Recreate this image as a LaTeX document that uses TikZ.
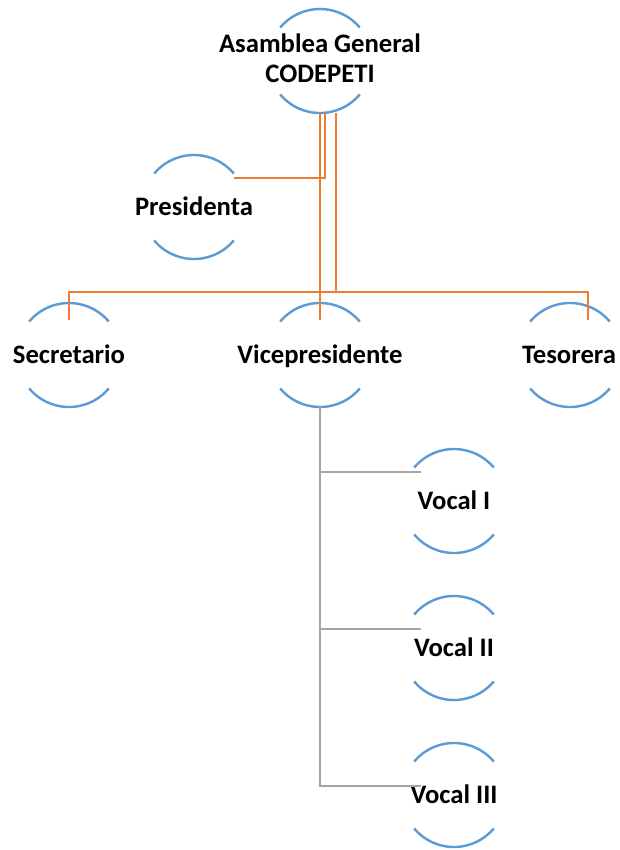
\documentclass[tikz,border=0pt]{standalone}
\usepackage{fontspec}
\setmainfont{Carlito}
\usetikzlibrary{calc}
\definecolor{arcblue}{RGB}{91,155,213}
\definecolor{orgline}{RGB}{237,125,49}
\definecolor{gryline}{RGB}{165,165,165}
\newcommand\twoarcs[2]{%
  \draw[arcline] ([shift={(140:39pt)}]#1,#2) arc[start angle=140,end angle=40,radius=39pt];
  \draw[arcline] ([shift={(220:39pt)}]#1,#2) arc[start angle=220,end angle=320,radius=39pt];}
\begin{document}
\begin{tikzpicture}[x=0.75pt,y=-0.75pt,
  lbl/.style={font=\bfseries\fontsize{20}{22.5}\selectfont, inner sep=0pt, text height=12.9pt, text depth=0pt, align=center},
  arcline/.style={draw=arcblue, line width=1.8pt},
  org/.style={draw=orgline, line width=2pt},
  gry/.style={draw=gryline, line width=2pt}]
\useasboundingbox[fill=white] (0,0) rectangle (620,850);

% arcs (circle outlines partly hidden)
\twoarcs{320}{61}
\twoarcs{194}{207}
\twoarcs{69}{355}
\twoarcs{320}{355}
\twoarcs{570}{355}
\twoarcs{454}{501}
\twoarcs{454}{648}
\twoarcs{454}{795}

% labels
\node[lbl] (gen) at (320,74) {Asamblea General\\CODEPETI};
\node[lbl] (pres) at (194,207) {Presidenta};
\node[lbl] (sec) at (69,355) {Secretario};
\node[lbl] (vice) at (320,355) {Vicepresidente};
\node[lbl] (tes) at (569,355) {Tesorera};
\node[lbl] (v1) at (454,501) {Vocal I};
\node[lbl] (v2) at (454,648) {Vocal II};
\node[lbl] (v3) at (454,795) {Vocal III};

% orange connectors
\draw[org] ($(gen.center)+(0,39)$) -- ($(vice.center)+(0,-35)$);
\draw[org] ($(gen.center)+(5,39)$) |- ($(pres.center)+(40,-29)$);
\draw[org] ($(gen.center)+(16,39)$) |- ($(vice.center)+(0,-63)$);
\draw[org] ($(sec.center)+(0,-35)$) |- ($(tes.center)+(19,-63)$) -- ($(tes.center)+(19,-35)$);

% gray connectors
\draw[gry] ($(vice.center)+(0,52)$) |- ($(v3.center)+(-33,-9)$);
\draw[gry] ($(vice.center)+(0,117)$) -- ($(v1.center)+(-33,-29)$);
\draw[gry] ($(vice.center)+(0,274)$) -- ($(v2.center)+(-33,-19)$);
\end{tikzpicture}
\end{document}
